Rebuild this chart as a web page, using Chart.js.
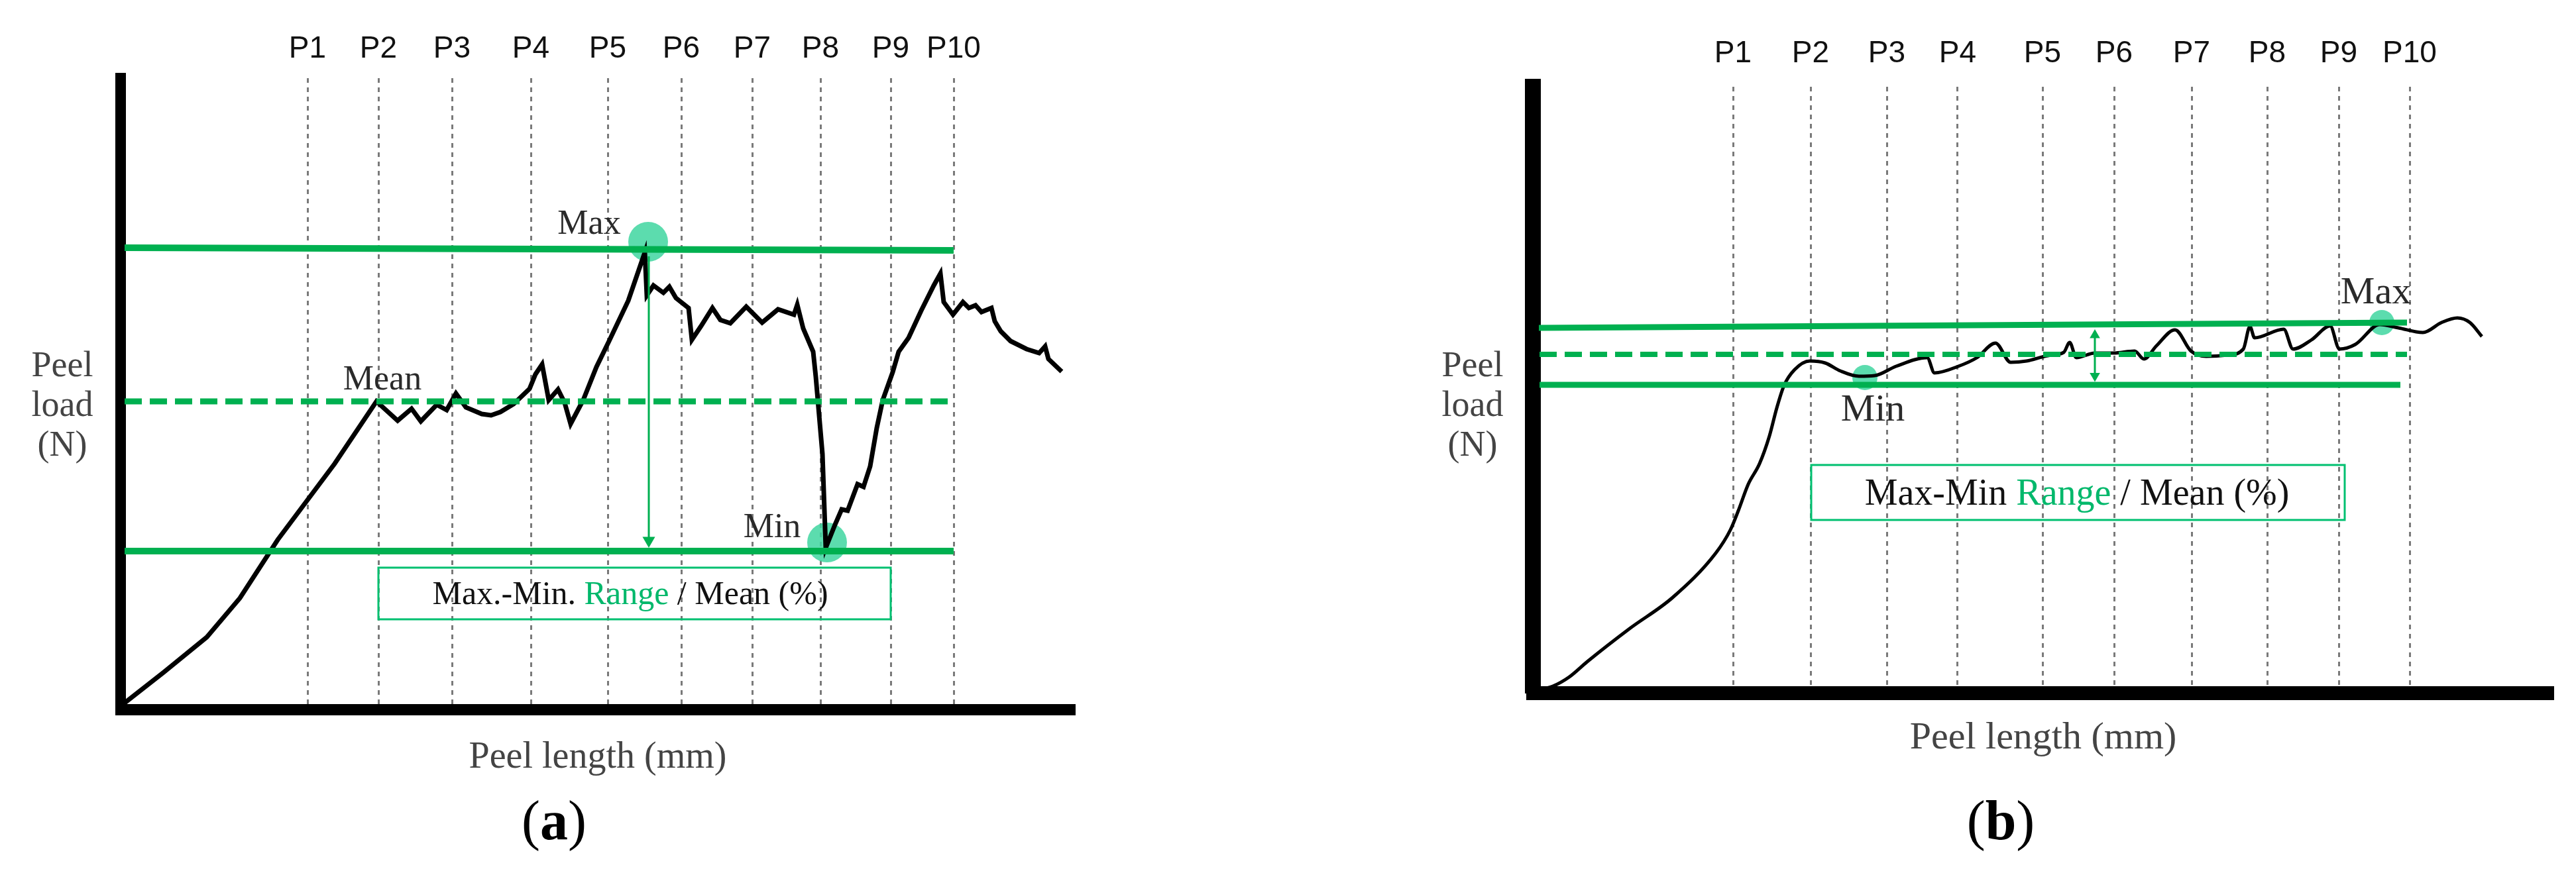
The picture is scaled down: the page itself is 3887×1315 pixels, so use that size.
<!DOCTYPE html>
<html>
<head>
<meta charset="utf-8">
<script src="https://cdn.jsdelivr.net/npm/chart.js@4.4.1/dist/chart.umd.min.js"></script>
<style>
  body { margin: 0; background: #fff; }
  #wrap { position: relative; width: 3887px; height: 1315px; background: #fff; overflow: hidden; }
  canvas { position: absolute; top: 0; }
  .ylab { position: absolute; top: 520px; width: 188px; text-align: center;
          font: 54px/60px "Liberation Serif", "DejaVu Serif", serif; color: #444; z-index: 2; }
  .cap { position: absolute; top: 1189px; width: 200px; text-align: center;
         font: 84px/100px "Liberation Serif", "Times New Roman", serif; color: #000; z-index: 2; }
</style>
</head>
<body>
<div id="wrap">
  <canvas id="chartA" width="1700" height="1315" style="left:0"></canvas>
  <canvas id="chartB" width="1757" height="1315" style="left:2130px"></canvas>
  <div class="ylab" style="left:0">Peel<br>load<br>(N)</div>
  <div class="ylab" style="left:2128px">Peel<br>load<br>(N)</div>
  <div class="cap" style="left:736px">(<b>a</b>)</div>
  <div class="cap" style="left:2919px">(<b>b</b>)</div>
</div>
<script>
// peel positions P1..P10 (same length units as the curves)
const pLabels = ["P1", "P2", "P3", "P4", "P5", "P6", "P7", "P8", "P9", "P10"];
const pPosA = [28.2, 38.9, 50.0, 61.9, 73.5, 84.6, 95.3, 105.6, 116.2, 125.7];
const pPosB = [30.2, 41.9, 53.4, 64.1, 76.9, 87.7, 99.4, 110.8, 121.6, 132.3];

// (a) peel curve
const lengthA = [0, 6.5, 13, 18, 23.7, 32.3, 38.6, 41.8, 43.9, 45.3, 47.7, 49.2, 50.6, 52.1, 54.5, 55.9, 57.3, 59.3, 61.7, 62.6,
  63.6, 64.6, 66.0, 67.0, 67.9, 69.8, 71.8, 73.7, 76.6, 79.1, 79.4, 80.4, 81.9, 82.8, 83.8, 85.7, 86.2, 87.6, 89.3, 90.5,
  92.0, 94.4, 96.8, 99.2, 101.6, 102.1, 103.0, 104.5, 104.9, 105.9, 106.4, 107.8, 108.8, 109.7, 111.2, 112.1, 113.1, 114.1, 115.0, 116.5,
  117.4, 118.9, 120.8, 122.7, 123.7, 124.2, 125.6, 127.1, 128.0, 129.0, 129.9, 131.4, 131.9, 132.8, 134.3, 136.7, 138.6, 139.5, 140.0, 142.0];
const loadA = [0.5, 5.6, 10.9, 16.8, 25.6, 37.1, 46.5, 43.6, 45.4, 43.5, 46.0, 45.2, 47.7, 45.6, 44.6, 44.4, 44.9, 46.1, 48.4, 50.6,
  52.1, 46.7, 48.3, 46.3, 43.1, 46.7, 51.7, 55.6, 61.7, 69.0, 62.5, 64.0, 62.9, 63.8, 62.1, 60.6, 55.8, 57.9, 60.6, 58.8,
  58.3, 60.8, 58.4, 60.4, 59.6, 61.1, 57.5, 54.0, 50.2, 38.6, 24.4, 27.9, 30.2, 30.0, 34.0, 33.6, 36.7, 42.5, 46.7, 50.9,
  54.0, 56.1, 60.2, 64.0, 65.8, 61.5, 59.6, 61.5, 60.6, 61.0, 60.0, 60.6, 58.6, 57.1, 55.6, 54.4, 53.8, 54.8, 52.9, 51.0];

// (b) peel curve
const lengthB = [0, 3, 5.5, 8.2, 14.6, 21.1, 27.6, 29.8, 31.0, 32.5, 34.2, 35.7, 36.8, 37.9, 39.5, 41.8, 44.1, 46.4, 49.2, 51.6,
  54.8, 59.5, 60.6, 64.2, 67.0, 69.8, 72.1, 74.5, 77.7, 80.1, 81.0, 82.0, 84.8, 87.6, 90.8, 92.2, 94.1, 96.9, 99.3, 101.6,
  104.9, 107.2, 108.2, 108.9, 113.3, 114.7, 117.5, 120.3, 121.7, 124.1, 127.8, 130.6, 134.3, 137.1, 139.5, 141.4, 143.2];
const loadB = [0.3, 1.0, 2.4, 4.7, 9.7, 14.4, 21.1, 24.6, 27.5, 31.5, 34.6, 38.8, 43.0, 46.4, 48.8, 50.1, 49.8, 48.6, 47.8, 47.9,
  49.3, 50.6, 48.3, 49.3, 50.6, 52.8, 49.9, 50.1, 50.9, 51.4, 52.9, 50.6, 51.3, 51.3, 51.6, 50.4, 52.4, 54.8, 51.6, 50.8,
  51.0, 51.9, 55.3, 53.6, 54.9, 51.9, 53.3, 55.4, 51.9, 52.6, 55.6, 55.1, 54.4, 55.9, 56.6, 55.9, 53.8];

// reference levels: [start length, end length, start load, end load]
const maxLineA = [0.6, 125.7, 69.7, 69.3];
const meanLineA = [0.6, 125.7, 46.5, 46.5];
const minLineA = [0.6, 125.7, 23.9, 23.9];
const maxLineB = [0.9, 131.9, 55.1, 55.9];
const meanLineB = [1.0, 131.9, 51.1, 51.1];
const minLineB = [1.0, 130.9, 46.5, 46.5];

// max / min markers [length, load]
const maxPtA = [79.6, 70.6], minPtA = [106.6, 25.2];
const maxPtB = [128.1, 55.9], minPtB = [50.1, 47.6];

const GREEN = "#00b050";
const MINT = "rgba(64, 214, 160, 0.85)";
const SERIF = '"Liberation Serif", "Times New Roman", serif';

const pts = (xs, ys) => xs.map((x, i) => ({ x: x, y: ys[i] }));
const seg = (l) => [{ x: l[0], y: l[2] }, { x: l[1], y: l[3] }];

// annotation texts and the range box
const notes = {
  id: "notes",
  afterDatasetsDraw(chart, args, o) {
    const { ctx, scales } = chart;
    const px = (v) => scales.x.getPixelForValue(v);
    const py = (v) => scales.y.getPixelForValue(v);
    ctx.save();
    ctx.strokeStyle = "#00c070";
    ctx.lineWidth = 3;
    const b = o.box;
    ctx.strokeRect(px(b[0]), py(b[2]), px(b[1]) - px(b[0]), py(b[3]) - py(b[2]));

    ctx.textBaseline = "alphabetic";
    ctx.font = o.boxSize + "px " + SERIF;
    const widths = o.boxParts.map((p) => ctx.measureText(p[0]).width);
    let x = px(o.boxAt[0]) - widths.reduce((a, w) => a + w, 0) / 2;
    ctx.textAlign = "left";
    o.boxParts.forEach((p, i) => {
      ctx.fillStyle = p[1];
      ctx.fillText(p[0], x, py(o.boxAt[1]));
      x += widths[i];
    });

    ctx.textAlign = "center";
    ctx.fillStyle = "#2a2a2a";
    ctx.font = o.labelSize + "px " + SERIF;
    o.labels.forEach((l) => ctx.fillText(l[0], px(l[1]), py(l[2])));
    ctx.restore();
  }
};

function makeChart(id, c) {
  return new Chart(document.getElementById(id), {
    type: "line",
    data: {
      datasets: [
        { data: pts(c.len, c.load), borderColor: "#000", borderWidth: c.curveW, pointRadius: 0,
          tension: c.tension, cubicInterpolationMode: c.tension ? "monotone" : "default", order: 4 },
        { data: seg(c.maxLine), borderColor: GREEN, borderWidth: c.lineW, pointRadius: 0, order: 2 },
        { data: seg(c.meanLine), borderColor: GREEN, borderWidth: c.lineW - 1, borderDash: [26, 12], pointRadius: 0, order: 2 },
        { data: seg(c.minLine), borderColor: GREEN, borderWidth: c.lineW, pointRadius: 0, order: 2 },
        { data: c.arrow, borderColor: GREEN, borderWidth: 3, pointStyle: "triangle",
          pointRadius: c.arrowR, pointRotation: [0, 180], pointBackgroundColor: GREEN, pointBorderWidth: 0, order: 1 },
        { data: [{ x: c.maxPt[0], y: c.maxPt[1] }, { x: c.minPt[0], y: c.minPt[1] }], showLine: false,
          pointRadius: c.dotR, pointBackgroundColor: MINT, pointBorderWidth: 0, order: 6 }
      ]
    },
    options: {
      responsive: false,
      animation: false,
      events: [],
      layout: { padding: { left: 0, top: 0, bottom: 0, right: c.padRight } },
      plugins: {
        legend: { display: false },
        tooltip: { enabled: false },
        notes: c.notes
      },
      scales: {
        x: {
          type: "linear", position: "bottom", min: 0, max: c.xMax,
          ticks: { display: false },
          grid: { display: false, drawTicks: false },
          border: { display: true, color: "#000", width: c.xAxisW },
          title: { display: true, text: "Peel length (mm)", color: "#444",
                   font: { family: SERIF, size: c.titleSize }, padding: { top: 0, bottom: c.titlePad } },
          afterFit: (s) => { s.height = c.bottomH; }
        },
        xTop: {
          type: "linear", position: "top", min: 0, max: c.xMax,
          afterBuildTicks: (s) => { s.ticks = c.pPos.map((v) => ({ value: v })); },
          ticks: { autoSkip: false, maxRotation: 0, padding: c.pPad, color: "#111",
                   font: { family: '"Liberation Sans", Arial, sans-serif', size: 46 },
                   callback: (v, i) => pLabels[i] },
          grid: { drawTicks: false, color: "#7a7a7a", lineWidth: 3 },
          border: { display: false, dash: [7, 7] },
          afterFit: (s) => { s.height = c.topH; }
        },
        y: {
          type: "linear", min: 0, max: c.yMax,
          ticks: { display: false },
          grid: { display: false, drawTicks: false },
          border: { display: true, color: "#000", width: c.yAxisW },
          afterFit: (s) => { s.width = c.leftW; }
        }
      }
    },
    plugins: [notes]
  });
}

makeChart("chartA", {
  len: lengthA, load: loadA, tension: 0, curveW: 7, lineW: 10,
  maxLine: maxLineA, meanLine: meanLineA, minLine: minLineA,
  arrow: [{ x: 79.7, y: 68.4 }, { x: 79.7, y: 25.5 }], arrowR: [0, 11],
  maxPt: maxPtA, minPt: minPtA, dotR: 30,
  xMax: 144, yMax: 95.3, pPos: pPosA, pPad: 16,
  padRight: 78, topH: 118, bottomH: 244, leftW: 182, xAxisW: 17, yAxisW: 16,
  titleSize: 56, titlePad: 137,
  notes: {
    box: [38.9, 116.2, 21.4, 13.6],
    boxAt: [76.9, 15.9], boxSize: 50,
    boxParts: [["Max.-Min. ", "#111"], ["Range", "#00b86b"], [" / Mean (%)", "#111"]],
    labelSize: 52,
    labels: [["Max", 70.7, 71.8], ["Mean", 39.5, 48.3], ["Min", 98.3, 26.0]]
  }
});

makeChart("chartB", {
  len: lengthB, load: loadB, tension: 0.3, curveW: 5, lineW: 9,
  maxLine: maxLineB, meanLine: meanLineB, minLine: minLineB,
  arrow: [{ x: 84.8, y: 54.0 }, { x: 84.8, y: 47.85 }], arrowR: [9, 9],
  maxPt: maxPtB, minPt: minPtB, dotR: 19,
  xMax: 154, yMax: 91.5, pPos: pPosB, pPad: 22,
  padRight: 34, topH: 131, bottomH: 269, leftW: 183, xAxisW: 21, yAxisW: 24,
  titleSize: 58, titlePad: 165,
  notes: {
    box: [42.0, 122.5, 34.4, 26.1],
    boxAt: [82.1, 28.4], boxSize: 56,
    boxParts: [["Max-Min ", "#111"], ["Range", "#00b86b"], [" / Mean (%)", "#111"]],
    labelSize: 58,
    labels: [["Max", 127.2, 58.8], ["Min", 51.3, 41.1]]
  }
});
</script>
</body>
</html>
